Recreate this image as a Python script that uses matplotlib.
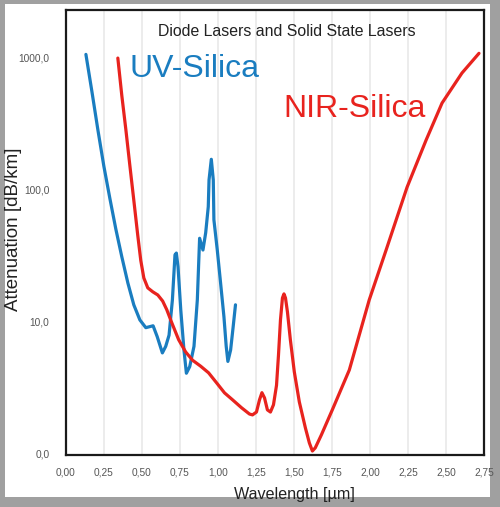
import matplotlib
matplotlib.use('Agg')
from matplotlib import pyplot as plt
from matplotlib import rcParams
from matplotlib.patches import Rectangle

# UV-Silica fibre attenuation (dB/km) vs wavelength (um)
uv_wl = [0.131, 0.171, 0.210, 0.249, 0.289, 0.328, 0.367, 0.407, 0.446,
         0.486, 0.525, 0.573, 0.600, 0.634, 0.656, 0.678, 0.700, 0.717,
         0.726, 0.737, 0.755, 0.776, 0.792, 0.814, 0.842, 0.864, 0.879,
         0.901, 0.919, 0.936, 0.941, 0.956, 0.969, 0.973, 0.995, 1.017,
         1.039, 1.054, 1.065, 1.083, 1.100, 1.115]
uv_att = [1050, 545, 281, 150, 85, 50, 31, 19.6, 13.4,
          10.3, 9.0, 9.3, 7.7, 5.8, 6.5, 7.9, 14.6, 32,
          33, 26, 12.3, 6.1, 4.07, 4.57, 6.5, 14.6, 42.7,
          34.8, 47, 74, 118, 169, 118, 59, 35, 19.6,
          10.9, 6.5, 5.0, 6.1, 9.2, 13.4]

# NIR-Silica fibre attenuation
nir_wl = [0.341, 0.367, 0.394, 0.420, 0.446, 0.472, 0.492, 0.512, 0.538,
          0.571, 0.604, 0.636, 0.663, 0.696, 0.741, 0.787, 0.833, 0.886,
          0.938, 0.991, 1.043, 1.096, 1.155, 1.207, 1.227, 1.253, 1.273,
          1.289, 1.306, 1.325, 1.345, 1.365, 1.385, 1.398, 1.411, 1.424,
          1.434, 1.444, 1.457, 1.476, 1.502, 1.535, 1.575, 1.601, 1.621,
          1.640, 1.680, 1.752, 1.864, 1.995, 2.106, 2.244, 2.369, 2.474,
          2.605, 2.717]
nir_att = [985, 515, 282, 152, 83, 45, 29, 21.4, 18,
           16.8, 15.9, 14.3, 12.3, 9.8, 7.3, 5.9, 5.1, 4.6,
           4.1, 3.44, 2.89, 2.56, 2.23, 2.0, 1.97, 2.07, 2.56,
           2.9, 2.65, 2.15, 2.07, 2.35, 3.3, 5.6, 10.3, 15.1,
           16.2, 15.1, 11.8, 7.3, 4.17, 2.47, 1.57, 1.21, 1.05,
           1.11, 1.39, 2.15, 4.31, 14.6, 34.8, 104, 236, 450,
           759, 1070]

x_ticks = [0.0, 0.25, 0.5, 0.75, 1.0, 1.25, 1.5, 1.75, 2.0, 2.25, 2.5, 2.75]
x_tick_labels = ['0,00', '0,25', '0,50', '0,75', '1,00', '1,25', '1,50',
                 '1,75', '2,00', '2,25', '2,50', '2,75']
y_ticks = [1, 10, 100, 1000]
y_tick_labels = ['0,0', '10,0', '100,0', '1000,0']

blue = '#1a7dc0'
red = '#e8231e'

rcParams['font.family'] = ['Liberation Sans', 'DejaVu Sans']
fig = plt.figure(figsize=(5.0, 5.07), dpi=100)
fig.patch.set_facecolor('#a0a0a0')
# white card inside the grey frame
fig.patches.append(Rectangle((5 / 500, 10 / 507), 485 / 500, 493 / 507,
                             transform=fig.transFigure, facecolor='white',
                             edgecolor='none', zorder=-1))

ax = fig.add_axes([0.132, 0.1026, 0.836, 0.8774])
ax.set_facecolor('white')
ax.set_yscale('log')
ax.set_xlim(0, 2.75)
ax.set_ylim(0.98, 2270)

for x in x_ticks[1:-1]:
    ax.axvline(x, color='#ebebeb', linewidth=1.3, zorder=0)

ax.plot(uv_wl, uv_att, color=blue, linewidth=2.3, solid_joinstyle='round',
        solid_capstyle='round', zorder=3)
ax.plot(nir_wl, nir_att, color=red, linewidth=2.3, solid_joinstyle='round',
        solid_capstyle='round', zorder=3)

ax.set_xticks(x_ticks)
ax.set_xticklabels(x_tick_labels)
ax.set_yticks(y_ticks)
ax.set_yticklabels(y_tick_labels)
ax.minorticks_off()
ax.tick_params(length=0, labelsize=7.3, labelcolor='#555555')
ax.tick_params(axis='x', pad=9)
ax.tick_params(axis='y', pad=12)

for s in ax.spines.values():
    s.set_linewidth(1.6)
    s.set_color('#1a1a1a')

ax.text(0.529, 0.951, 'Diode Lasers and Solid State Lasers',
        transform=ax.transAxes, ha='center', va='center', fontsize=11.4,
        color='#222222')
ax.text(0.153, 0.868, 'UV-Silica', transform=ax.transAxes, ha='left',
        va='center', fontsize=23, color=blue)
ax.text(0.519, 0.778, 'NIR-Silica', transform=ax.transAxes, ha='left',
        va='center', fontsize=23, color=red)

fig.text(0.028, 0.548, 'Attenuation [dB/km]', rotation=90, ha='center',
         va='center', fontsize=13.5, color='#222222')
fig.text(0.588, 0.024, 'Wavelength [\u00b5m]', ha='center', va='center',
         fontsize=11.6, color='#222222')

plt.savefig('out.png', dpi=100, facecolor=fig.get_facecolor())
